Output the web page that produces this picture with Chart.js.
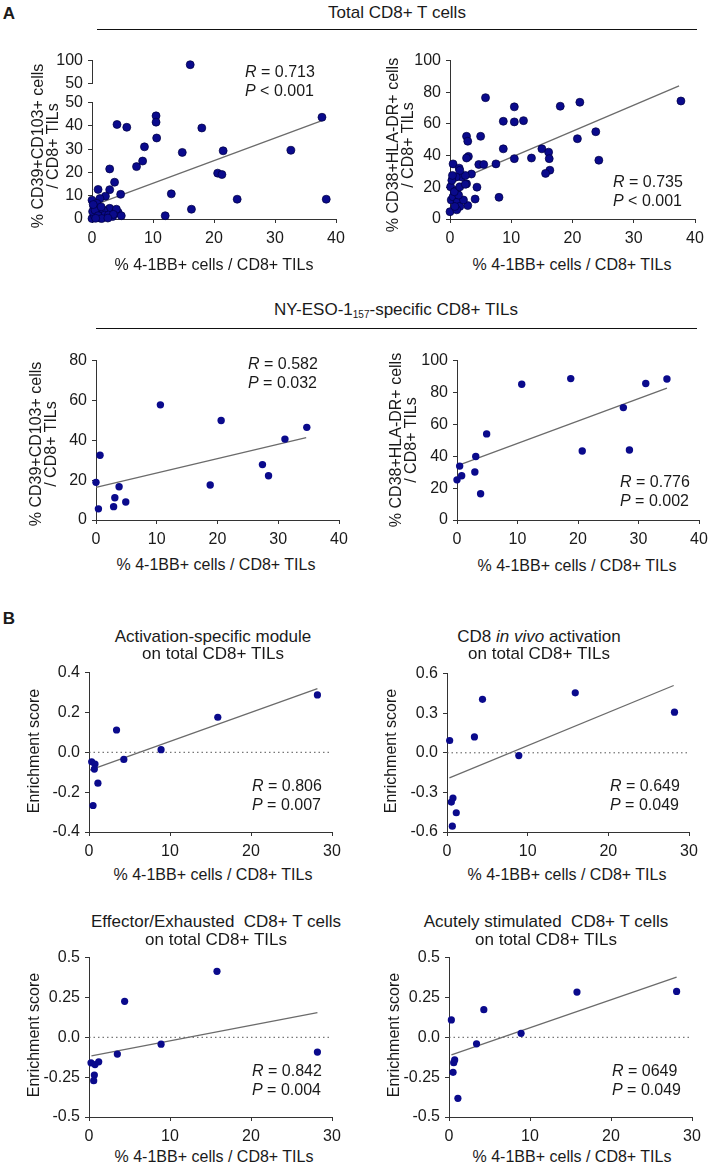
<!DOCTYPE html>
<html>
<head>
<meta charset="utf-8">
<script src="https://cdn.jsdelivr.net/npm/chart.js@4"></script>
<style>
  body { margin: 0; background: #fff; width: 709px; height: 1169px; position: relative; overflow: hidden;
         font-family: "Liberation Sans", Arial, sans-serif; color: #1a1a1a; }
  canvas { position: absolute; }
  .t { position: absolute; white-space: nowrap; font-size: 16px; line-height: 1; transform: translate(-50%, -50%); }
  .rot { transform: translate(-50%, -50%) rotate(-90deg); text-align: center; line-height: 15px; }
  .lft { transform: translate(0, -50%); }
  .rule { position: absolute; height: 0; border-top: 1.3px solid #111; }
  sub { font-size: 10px; vertical-align: -3px; line-height: 0; }
</style>
</head>
<body>
<script>
// ---- data ----
// A, total CD8+ T cells: 4-1BB+ (%) vs CD39+CD103+ (%)
const a1X = [4.1, 5.7, 10.5, 10.5, 10.6, 8.6, 7.3, 8.3, 14.8, 18.0, 21.5, 20.6, 21.3, 13.0, 16.3, 12.0, 23.8, 32.6, 37.7, 38.4,
             2.9, 3.7, 2.9, 1.0, 4.7, 2.2, 1.3, 0.0, 0.8, 0.3, 0.0, 0.8, 1.8, 2.9, 3.7, 4.3, 4.8, 3.4, 2.4, 1.3,
             0.4, 1.8, 0.1, 4.0, 0.5, 1.9, 2.1, 1.0, 2.7, 3.5, 1.6, 0.2, 1.5, 2.6, 0.6];
const a1Y = [40.6, 39.4, 44.3, 41.6, 34.8, 31.0, 22.5, 24.9, 28.6, 39.1, 29.3, 19.7, 19.1, 10.8, 4.2, 1.4, 8.5, 29.5, 43.7, 8.5,
             21.5, 15.8, 12.6, 12.7, 10.6, 9.8, 8.8, 8.1, 6.7, 5.3, 0.2, 2.5, 3.9, 4.6, 2.5, 2.8, 1.4, 1.1, 1.8, 0.4,
             1.4, 1.1, 3.2, 4.2, 3.8, 3.6, 1.7, 1.4, 1.7, 2.0, 0.2, 6.2, 5.2, 0.4, 0.3];
const a1HighX = [16.1];        // the one value above the axis break
const a1HighY = [91];
const a1Fit = [[0, 5.6], [37.7, 42.3]];

// A, total CD8+ T cells: 4-1BB+ (%) vs CD38+HLA-DR+ (%)
const a2X = [5.8, 10.5, 18.0, 21.2, 37.7, 8.7, 10.5, 12.0, 2.7, 2.9, 5.0, 8.7, 15.0, 20.8, 23.8, 24.3, 16.1, 16.2, 16.3, 15.6,
             10.5, 13.3, 7.5, 4.7, 5.5, 3.0, 2.7, 8.0, 4.4, 4.1, 3.5, 2.7, 2.9, 0.5, 1.5, 0.1, 0.2, 0.0, 0.5, 1.1,
             1.2, 1.6, 1.1, 0.8, 1.9, 2.5, 1.6, 1.0, 0.3, 2.2, 1.4, 0.4, 0.7, 1.6, 2.5];
const a2Y = [76.6, 70.8, 71.2, 73.7, 74.5, 61.7, 61.3, 62.1, 52.2, 49.1, 52.2, 44.3, 44.3, 50.7, 55.1, 37.1, 42.2, 38.1, 30.8, 28.8,
             38.1, 38.5, 34.8, 34.4, 34.4, 39.5, 38.5, 13.7, 20.1, 12.6, 28.4, 22.2, 8.5, 34.8, 32.1, 20.3, 12.0, 4.6, 14.0, 18.2,
             10.8, 7.9, 5.8, 7.9, 26.5, 27.5, 30.6, 26.5, 24.4, 12.0, 15.1, 27.5, 17.2, 20.3, 21.9];
const a2Fit = [[0, 22.5], [37.4, 84.0]];

// A, NY-ESO-1 157-specific CD8+ TILs
const a3X = [10.6, 20.6, 34.7, 31.1, 27.4, 28.4, 18.8, 0.66, 0.0, 3.8, 3.1, 4.9, 2.9, 0.4];
const a3Y = [57.8, 49.9, 46.5, 40.6, 27.8, 22.2, 17.6, 32.5, 18.9, 16.7, 11.2, 9.0, 6.7, 5.6];
const a3Fit = [[0, 16.4], [34.6, 41.3]];

const a4X = [10.7, 18.8, 31.2, 34.7, 27.5, 20.7, 28.5, 4.9, 3.1, 2.95, 3.9, 0.44, 0.77, 0.0];
const a4Y = [85.2, 88.7, 85.6, 88.5, 70.5, 43.3, 43.9, 54.0, 39.8, 30.1, 16.5, 33.8, 27.8, 25.2];
const a4Fit = [[0.3, 34.4], [34.7, 82.8]];

// B, enrichment scores vs 4-1BB+ (%)
const bX = [28.2, 15.9, 3.4, 8.9, 4.3, 0.33, 0.74, 0.66, 1.1, 0.5];
const b1Y = [0.288, 0.176, 0.112, 0.013, -0.036, -0.048, -0.059, -0.084, -0.155, -0.267];
const b1Fit = [[0.1, -0.09], [28.2, 0.32]];

const b2X = [0.33, 3.4, 4.4, 15.9, 28.2, 8.9, 0.74, 0.54, 1.15, 0.66];
const b2Y = [0.093, 0.12, 0.405, 0.454, 0.308, -0.021, -0.343, -0.373, -0.454, -0.556];
const b2Fit = [[0.3, -0.19], [28.1, 0.51]];

const b3X = [15.8, 4.4, 8.9, 3.5, 28.2, 0.25, 0.74, 1.2, 0.66, 0.58];
const b3Y = [0.414, 0.226, -0.043, -0.105, -0.093, -0.16, -0.171, -0.154, -0.237, -0.272];
const b3Fit = [[0.3, -0.117], [28.2, 0.155]];

const b4X = [0.29, 4.3, 15.8, 28.1, 8.9, 3.4, 0.7, 0.58, 0.5, 1.1];
const b4Y = [0.109, 0.173, 0.284, 0.288, 0.025, -0.041, -0.142, -0.159, -0.22, -0.383];
const b4Fit = [[0.3, -0.11], [28.1, 0.377]];

const zeroRef = [[0, 0], [30, 0]];

const xTitle = '% 4-1BB+ cells / CD8+ TILs';

// ---- drawing ----
const FONT = '"Liberation Sans", Arial, sans-serif';
const INK = '#1a1a1a';
const AXIS = '#333';
const DOT = '#0a0a8c';
const YW = 52, XH = 30, PT = 12, PR = 18, PB = 10;

function text(html, x, y, cls, size) {
    const d = document.createElement('div');
    d.className = 't' + (cls ? ' ' + cls : '');
    d.innerHTML = html;
    d.style.left = x + 'px';
    d.style.top = y + 'px';
    if (size) d.style.fontSize = size + 'px';
    document.body.appendChild(d);
}

function rule(x1, x2, y) {
    const d = document.createElement('div');
    d.className = 'rule';
    d.style.left = x1 + 'px';
    d.style.top = y + 'px';
    d.style.width = (x2 - x1) + 'px';
    document.body.appendChild(d);
}

function pts(xs, ys) {
    return xs.map((x, i) => ({ x: x, y: ys[i] }));
}

function dots(xs, ys, r, outlined) {
    return {
        data: pts(xs, ys),
        pointRadius: r,
        pointBackgroundColor: DOT,
        pointBorderColor: outlined ? '#000040' : DOT,
        pointBorderWidth: outlined ? 0.7 : 0,
        showLine: false,
        clip: false
    };
}

function segment(pairs, color, width, dash) {
    return {
        data: pairs.map(p => ({ x: p[0], y: p[1] })),
        showLine: true,
        borderColor: color,
        borderWidth: width,
        borderDash: dash || [],
        pointRadius: 0,
        clip: false
    };
}

function axis(r, show, dir) {
    return {
        type: 'linear',
        display: show,
        min: r.min,
        max: r.max,
        afterFit: show ? (s => { if (dir === 'x') s.height = XH; else s.width = YW; }) : undefined,
        ticks: {
            stepSize: r.step,
            autoSkip: false,
            maxRotation: 0,
            padding: dir === 'x' ? 6 : 5,
            color: INK,
            font: { family: FONT, size: 16 },
            callback: r.fmt || (v => v)
        },
        grid: { drawOnChartArea: false, drawTicks: true, tickLength: 4, tickColor: AXIS, lineWidth: 1 },
        border: { display: true, color: AXIS, width: 1 }
    };
}

function panel(box, xr, yr, layers, showX) {
    showX = showX !== false;
    const cv = document.createElement('canvas');
    cv.width = YW + box.r - box.l + PR;
    cv.height = PT + box.b - box.t + (showX ? XH : PB);
    cv.style.left = (box.l - YW) + 'px';
    cv.style.top = (box.t - PT) + 'px';
    document.body.appendChild(cv);
    return new Chart(cv, {
        type: 'scatter',
        data: { datasets: layers },
        options: {
            responsive: false,
            animation: false,
            devicePixelRatio: 1,
            layout: { padding: { top: PT, right: PR, bottom: showX ? 0 : PB, left: 0 } },
            plugins: { legend: { display: false }, tooltip: { enabled: false } },
            scales: { x: axis(xr, showX, 'x'), y: axis(yr, true, 'y') }
        }
    });
}

const fmt1 = v => (Math.abs(v) < 1e-9 ? 0 : v).toFixed(1);
const fmtQ = v => Math.abs(v) < 1e-9 ? '0.0' : String(Math.round(v * 100) / 100);

const x40 = { min: 0, max: 40, step: 10 };
const x30 = { min: 0, max: 30, step: 10 };
const FIT = '#6b6b6b';

// A, row 1 (broken y axis on the left plot)
panel({ l: 92, r: 336, t: 58, b: 88 }, x40, { min: 50, max: 100, step: 50 },
      [dots(a1HighX, a1HighY, 4, true)], false);
panel({ l: 92, r: 336, t: 100, b: 219 }, x40, { min: 0, max: 50, step: 10 },
      [dots(a1X, a1Y, 4, true), segment(a1Fit, FIT, 1.3)]);
panel({ l: 450, r: 695, t: 58, b: 219 }, x40, { min: 0, max: 100, step: 20 },
      [dots(a2X, a2Y, 4, true), segment(a2Fit, FIT, 1.3)]);

// A, row 2
panel({ l: 96, r: 339, t: 358, b: 520 }, x40, { min: 0, max: 80, step: 20 },
      [dots(a3X, a3Y, 3.7), segment(a3Fit, FIT, 1.3)]);
panel({ l: 457, r: 699, t: 358, b: 520 }, x40, { min: 0, max: 100, step: 20 },
      [dots(a4X, a4Y, 3.7), segment(a4Fit, FIT, 1.3)]);

// B
panel({ l: 89, r: 332, t: 670, b: 832 }, x30, { min: -0.4, max: 0.4, step: 0.2, fmt: fmt1 },
      [dots(bX, b1Y, 3.6), segment(b1Fit, FIT, 1.3), segment(zeroRef, '#555', 1, [1.5, 3])]);
panel({ l: 447, r: 689, t: 671, b: 832 }, x30, { min: -0.6, max: 0.6, step: 0.3, fmt: fmt1 },
      [dots(b2X, b2Y, 3.6), segment(b2Fit, FIT, 1.3), segment(zeroRef, '#555', 1, [1.5, 3])]);
panel({ l: 89, r: 332, t: 955, b: 1117 }, x30, { min: -0.5, max: 0.5, step: 0.25, fmt: fmtQ },
      [dots(b3X, b3Y, 3.6), segment(b3Fit, FIT, 1.3), segment(zeroRef, '#555', 1, [1.5, 3])]);
panel({ l: 449, r: 692, t: 955, b: 1117 }, x30, { min: -0.5, max: 0.5, step: 0.25, fmt: fmtQ },
      [dots(b4X, b4Y, 3.6), segment(b4Fit, FIT, 1.3), segment(zeroRef, '#555', 1, [1.5, 3])]);

// ---- text ----
text('<b>A</b>', 9, 13, '', 17);
text('<b>B</b>', 9, 618, '', 17);

text('Total CD8+ T cells', 397, 12, '', 17);
rule(97, 697, 29);
text('NY-ESO-1<sub>157</sub>-specific CD8+ TILs', 396, 309, '', 17);
rule(96, 697, 328);

text('% CD39+CD103+ cells<br>/ CD8+ TILs', 44.5, 146, 'rot');
text('% CD38+HLA-DR+ cells<br>/ CD8+ TILs', 400, 145, 'rot');
text('% CD39+CD103+ cells<br>/ CD8+ TILs', 42.5, 444, 'rot');
text('% CD38+HLA-DR+ cells<br>/ CD8+ TILs', 403, 440, 'rot');
text('Enrichment score', 33, 751, 'rot');
text('Enrichment score', 390, 751, 'rot');
text('Enrichment score', 33, 1035, 'rot');
text('Enrichment score', 393, 1035, 'rot');

[[214, 265], [572, 265], [216, 565], [577, 566], [213, 875], [567, 875], [214, 1157], [572, 1157]]
    .forEach(p => text(xTitle, p[0], p[1]));

text('Activation-specific module', 213, 636, '', 17);
text('on total CD8+ TILs', 213, 653, '', 17);
text('CD8 <i>in vivo</i> activation', 539, 636, '', 17);
text('on total CD8+ TILs', 539, 653, '', 17);
text('Effector/Exhausted&nbsp; CD8+ T cells', 216, 921, '', 17);
text('on total CD8+ TILs', 216, 939, '', 17);
text('Acutely stimulated&nbsp; CD8+ T cells', 546, 921, '', 17);
text('on total CD8+ TILs', 546, 939, '', 17);

const stats = [
    [245, 72, '0.713', '< 0.001'],
    [613, 182, '0.735', '< 0.001'],
    [248, 364, '0.582', '= 0.032'],
    [620, 482, '0.776', '= 0.002'],
    [252, 786, '0.806', '= 0.007'],
    [610, 786, '0.649', '= 0.049'],
    [252, 1071, '0.842', '= 0.004'],
    [612, 1071, '0649', '= 0.049']
];
stats.forEach(s => {
    text('<i>R</i> = ' + s[2], s[0], s[1], 'lft');
    text('<i>P</i> ' + s[3], s[0], s[1] + 19, 'lft');
});
</script>
</body>
</html>
